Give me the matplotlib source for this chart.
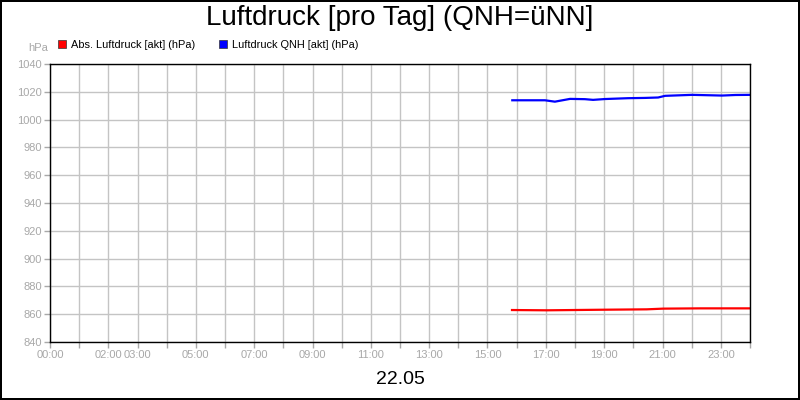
import matplotlib
matplotlib.use('Agg')
import matplotlib.pyplot as plt
from matplotlib.patches import Patch

plt.rcParams['font.family'] = ['Liberation Sans', 'DejaVu Sans']

# Daten (Stunden des Tages 22.05)
blau_stunden = [15.85, 16.97, 17.31, 17.83, 18.34, 18.62, 19.03, 19.82, 20.4,
                20.85, 21.09, 22.01, 23.04, 23.5, 24.0]
qnh_werte = [1013.9, 1013.9, 1012.9, 1014.9, 1014.7, 1014.2, 1014.8, 1015.4, 1015.6,
             1015.9, 1017.1, 1017.8, 1017.3, 1017.7, 1017.8]

rot_stunden = [15.84, 17.03, 18.86, 20.46, 21.02, 22.29, 24.0]
abs_werte = [863.0, 862.8, 863.2, 863.5, 864.0, 864.2, 864.2]

serien_namen = ['Abs. Luftdruck [akt] (hPa)', 'Luftdruck QNH [akt] (hPa)']
serien_farben = ['#ff0000', '#0000ff']

x_ticks = list(range(0, 25))
x_labels = {0: '00:00', 2: '02:00', 3: '03:00', 5: '05:00', 7: '07:00', 9: '09:00',
            11: '11:00', 13: '13:00', 15: '15:00', 17: '17:00', 19: '19:00',
            21: '21:00', 23: '23:00'}
y_ticks = list(range(840, 1041, 20))

grau = '#a8a8a8'

fig = plt.figure(figsize=(8, 4), dpi=100)
fig.patch.set_facecolor('white')
fig.patch.set_edgecolor('black')
fig.patch.set_linewidth(1.5)

ax = fig.add_axes([50 / 800, 58 / 400, 700 / 800, 278 / 400])

ax.plot(rot_stunden, abs_werte, color=serien_farben[0], linewidth=1.6)
ax.plot(blau_stunden, qnh_werte, color=serien_farben[1], linewidth=1.6)

ax.set_xlim(0, 24)
ax.set_ylim(840, 1040)
ax.set_xticks(x_ticks)
ax.set_xticklabels([x_labels.get(h, '') for h in x_ticks])
ax.set_yticks(y_ticks)
ax.set_yticklabels([str(v) for v in y_ticks])

ax.grid(True, color='#c4c4c4', linewidth=1.0)
ax.set_axisbelow(True)
for s in ax.spines.values():
    s.set_color('black')
    s.set_linewidth(1.0)

ax.tick_params(axis='both', colors=grau, labelcolor=grau, labelsize=8,
               length=4, width=1, direction='out')
ax.tick_params(axis='x', pad=2)
ax.tick_params(axis='y', pad=2)

# Titel, Datum und Einheit
fig.text(0.5, 1 - 18 / 400, 'Luftdruck [pro Tag] (QNH=üNN]', ha='center', va='center',
         fontsize=20, color='black')
fig.text(0.5, 1 - 379 / 400, '22.05', ha='center', va='center', fontsize=14, color='black')
fig.text(48 / 800, 1 - 48 / 400, 'hPa', ha='right', va='center', fontsize=8, color=grau)

# Legende
handles = [Patch(facecolor=c, edgecolor='#333333', linewidth=0.5) for c in serien_farben]
fig.legend(handles, serien_namen, loc='center left',
           bbox_to_anchor=(58 / 800, 1 - 45 / 400), ncol=2, frameon=False, fontsize=7.9,
           handlelength=0.75, handleheight=0.75, handletextpad=0.4, columnspacing=2.2,
           borderpad=0, borderaxespad=0)

fig.savefig('out.png', dpi=100, facecolor='white', edgecolor='black')
